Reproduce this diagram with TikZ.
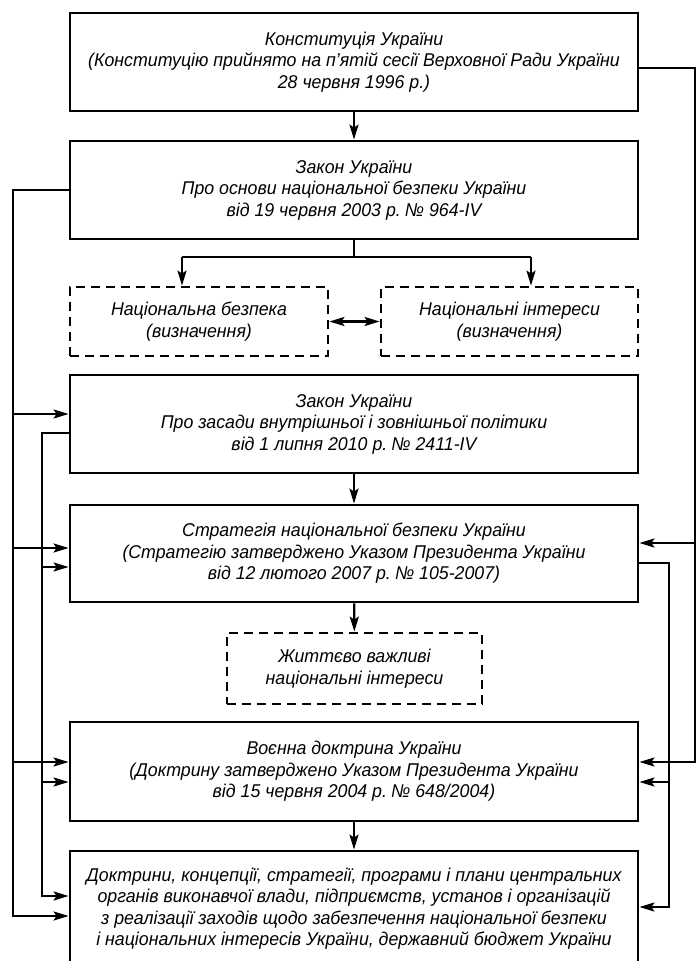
\documentclass[tikz,border=0pt]{standalone}
\usepackage{fontspec}
\newfontfamily\lbl{Liberation Sans}[FakeStretch=0.96]
\usetikzlibrary{arrows.meta}
% the numero sign carries a wide left bearing in this face
\newcommand\numero{\kern-2.5pt№}
\begin{document}
\begin{tikzpicture}[x=1pt,y=-1pt,
  every node/.style={font=\lbl\itshape\fontsize{18.5}{21.5}\selectfont,
    align=center, inner sep=0pt},
  solidbox/.style={draw, line width=2.8pt, minimum width=568pt},
  dashbox/.style={draw, line width=2.8pt, dash pattern=on 9pt off 6pt},
  link/.style={line width=2.3pt},
  tip/.tip={Stealth[length=15pt,width=9pt,inset=3pt]},
  arr/.style={link, -tip},
  darr/.style={link, tip-tip}]
\useasboundingbox (0,0) rectangle (697,961);

% main chain of documents
\node[solidbox, minimum height=98pt] (b1) at (354,62)
  {Конституція України\\(Конституцію прийнято на п’ятій сесії Верховної Ради України\\28 червня 1996 р.)};
\node[solidbox, minimum height=98pt] (b2) at (354,190)
  {Закон України\\Про основи національної безпеки України\\від 19 червня 2003 р. \numero{} 964-IV};
\node[dashbox, minimum width=258pt, minimum height=69pt] (dl) at (199,321.5)
  {Національна безпека\\(визначення)};
\node[dashbox, minimum width=257pt, minimum height=69pt] (dr) at (509.5,321.5)
  {Національні інтереси\\(визначення)};
\node[solidbox, minimum height=98pt] (b3) at (354,424)
  {Закон України\\Про засади внутрішньої і зовнішньої політики\\від 1 липня 2010 р. \numero{} 2411-IV};
\node[solidbox, minimum height=97pt] (b4) at (354,553.5)
  {Стратегія національної безпеки України\\(Стратегію затверджено Указом Президента України\\від 12 лютого 2007 р. \numero{} 105-2007)};
\node[dashbox, minimum width=255pt, minimum height=71pt] (dm) at (354.5,668.5)
  {Життєво важливі\\національні інтереси};
\node[solidbox, minimum height=99pt] (b5) at (354,771.5)
  {Воєнна доктрина України\\(Доктрину затверджено Указом Президента України\\від 15 червня 2004 р. \numero{} 648/2004)};
\node[solidbox, minimum height=115pt] (b6) at (354,908.5)
  {Доктрини, концепції, стратегії, програми і плани центральних\\органів виконавчої влади, підприємств, установ і організацій\\з реалізації заходів щодо забезпечення національної безпеки\\і національних інтересів України, державний бюджет України};

% vertical links
\draw[arr] (b1) -- (b2);
\draw[arr] (b3) -- (b4);
\draw[arr] (b4) -- (dm);
\draw[arr] (b5) -- (b6);

% branch to the two definitions
\coordinate (j)  at (354,257);
\coordinate (jl) at (182,257);
\coordinate (jr) at (531,257);
\draw[link] (b2) -- (j);
\draw[link] (jl) -- (jr);
\draw[arr] (jl) -- (jl |- dl.north);
\draw[arr] (jr) -- (jr |- dr.north);
\draw[darr] (dl.east) -- (dr.west);

% outer left bus
\coordinate (lo0) at (13,190);
\coordinate (lo3) at (13,414);
\coordinate (lo4) at (13,548);
\coordinate (lo5) at (13,762);
\coordinate (lo6) at (13,916);
\draw[arr] (b2.west) -- (lo0) -- (lo6) -- (lo6 -| b6.west);
\draw[arr] (lo3) -- (lo3 -| b3.west);
\draw[arr] (lo4) -- (lo4 -| b4.west);
\draw[arr] (lo5) -- (lo5 -| b5.west);

% inner left bus
\coordinate (li0) at (42,433);
\coordinate (li4) at (42,567);
\coordinate (li5) at (42,782);
\coordinate (li6) at (42,896);
\draw[arr] (li0 -| b3.west) -- (li0) -- (li6) -- (li6 -| b6.west);
\draw[arr] (li4) -- (li4 -| b4.west);
\draw[arr] (li5) -- (li5 -| b5.west);

% outer right bus
\coordinate (ro0) at (695,68);
\coordinate (ro4) at (695,543);
\coordinate (ro5) at (695,762);
\draw[arr] (ro0 -| b1.east) -- (ro0) -- (ro5) -- (ro5 -| b5.east);
\draw[arr] (ro4) -- (ro4 -| b4.east);

% inner right bus
\coordinate (ri0) at (669,563);
\coordinate (ri5) at (669,782);
\coordinate (ri6) at (669,907);
\draw[arr] (ri0 -| b4.east) -- (ri0) -- (ri6) -- (ri6 -| b6.east);
\draw[arr] (ri5) -- (ri5 -| b5.east);
\end{tikzpicture}
\end{document}
